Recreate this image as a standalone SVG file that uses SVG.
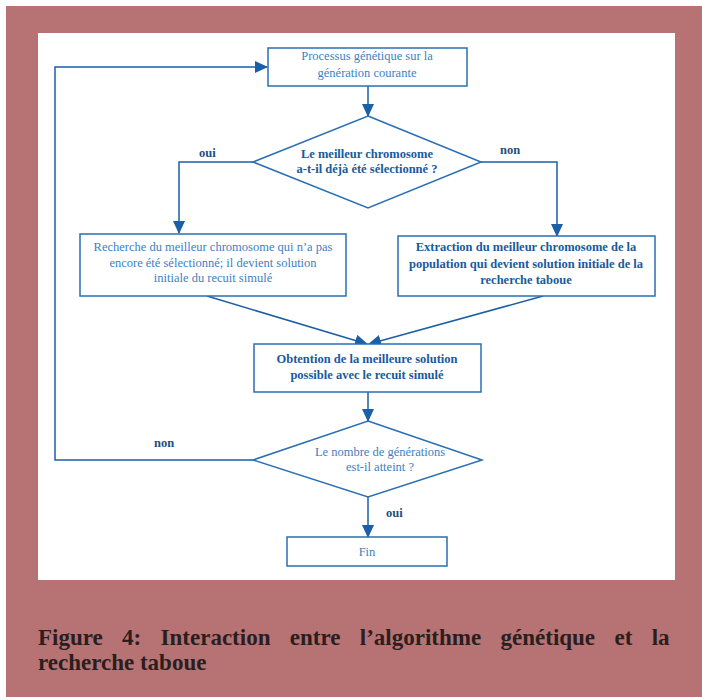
<svg xmlns="http://www.w3.org/2000/svg" width="702" height="700" viewBox="0 0 702 700">
<defs>
<marker id="ah" markerWidth="13" markerHeight="12" refX="12" refY="6" orient="auto" markerUnits="userSpaceOnUse">
<path d="M0,0 L13,6 L0,12 Z" fill="#1b5fa6"/>
</marker>
<style>
.box{fill:#fff;stroke:#2a6fb3;stroke-width:1.5}
.ln{fill:none;stroke:#1b5fa6;stroke-width:1.5}
.lt{font-family:"Liberation Serif","Times New Roman",serif;font-size:12.5px;fill:#3d7fc2;text-anchor:middle}
.bt{font-family:"Liberation Serif","Times New Roman",serif;font-size:12.5px;font-weight:bold;fill:#1a5a9c;text-anchor:middle}
.lab{font-family:"Liberation Serif","Times New Roman",serif;font-size:12.5px;font-weight:bold;fill:#1f4f80}
.cap{font-family:"Liberation Serif","Times New Roman",serif;font-size:23px;font-weight:bold;fill:#2a1e1f}
</style>
</defs>
<rect x="0" y="0" width="702" height="700" fill="#fff"/>
<rect x="6" y="6" width="696" height="691" fill="#b77274"/>
<rect x="38" y="33" width="637" height="547" fill="#fff"/>

<g id="connectors">
<path class="ln" d="M253,460 H55 V67 H267" marker-end="url(#ah)"/>
<path class="ln" d="M368,86 V116" marker-end="url(#ah)"/>
<path class="ln" d="M253,162 H179 V233" marker-end="url(#ah)"/>
<path class="ln" d="M481,162 H557 V236" marker-end="url(#ah)"/>
<path class="ln" d="M207,296 L367,344" marker-end="url(#ah)"/>
<path class="ln" d="M543,296 L369,344" marker-end="url(#ah)"/>
<path class="ln" d="M368,392 V421" marker-end="url(#ah)"/>
<path class="ln" d="M368,497 V537" marker-end="url(#ah)"/>
<text class="lab" x="199" y="157">oui</text>
<text class="lab" x="500" y="154">non</text>
<text class="lab" x="154" y="447">non</text>
<text class="lab" x="386" y="517">oui</text>
</g>

<g id="n1">
<rect class="box" x="268" y="48" width="199" height="38"/>
<text class="lt" x="367" y="60">Processus génétique sur la</text>
<text class="lt" x="367" y="77">génération courante</text>
</g>
<g id="d1">
<polygon class="box" points="368,116 481,162 368,208 253,162"/>
<text class="bt" x="367" y="158">Le meilleur chromosome</text>
<text class="bt" x="367" y="173">a-t-il déjà été sélectionné ?</text>
</g>
<g id="n2">
<rect class="box" x="80" y="234" width="266" height="62"/>
<text class="lt" x="213" y="251">Recherche du meilleur chromosome qui n’a pas</text>
<text class="lt" x="213" y="267">encore été sélectionné; il devient solution</text>
<text class="lt" x="213" y="282">initiale du recuit simulé</text>
</g>
<g id="n3">
<rect class="box" x="398" y="236" width="257" height="60"/>
<text class="bt" x="526" y="251">Extraction du meilleur chromosome de la</text>
<text class="bt" x="526" y="268">population qui devient solution initiale de la</text>
<text class="bt" x="526" y="284">recherche taboue</text>
</g>
<g id="n4">
<rect class="box" x="254" y="344" width="227" height="48"/>
<text class="bt" x="367" y="363">Obtention de la meilleure solution</text>
<text class="bt" x="367" y="379">possible avec le recuit simulé</text>
</g>
<g id="d2">
<polygon class="box" points="368,421 482,460 368,497 253,460"/>
<text class="lt" x="380" y="456">Le nombre de générations</text>
<text class="lt" x="380" y="471">est-il atteint ?</text>
</g>
<g id="n5">
<rect class="box" x="287" y="537" width="160" height="29"/>
<text class="lt" x="367" y="556">Fin</text>
</g>

<text class="cap" x="38" y="645" word-spacing="13.6">Figure 4: Interaction entre l’algorithme génétique et la</text>
<text class="cap" x="38" y="670">recherche taboue</text>
</svg>
